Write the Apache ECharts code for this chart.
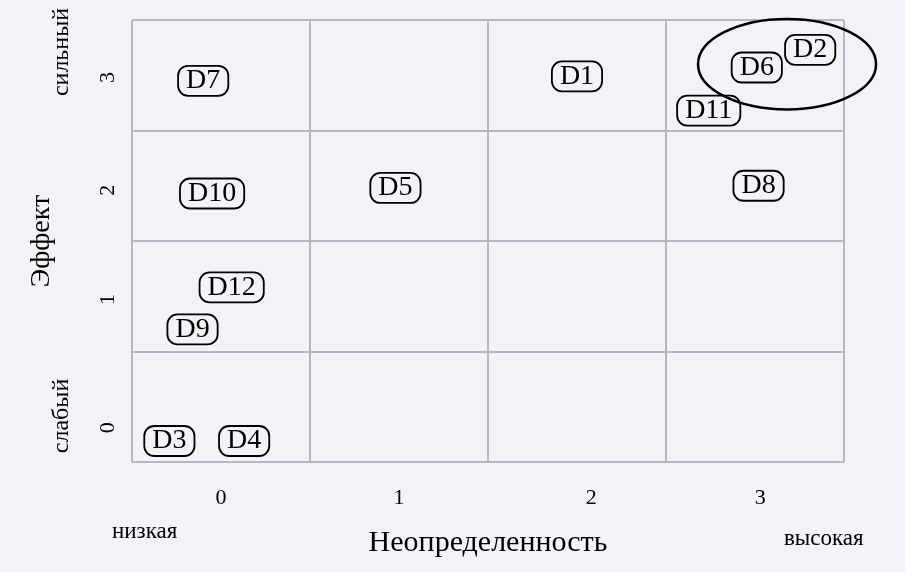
<!DOCTYPE html>
<html><head><meta charset="utf-8">
<script src="https://cdn.jsdelivr.net/npm/echarts@6/dist/echarts.min.js"></script>
<style>html,body{margin:0;padding:0;background:#f2f2f7;}#c{width:905px;height:572px;}</style>
</head><body><div id="c"></div>
<script>
// Items: name, uncertainty (x), effect (y)
const names = ['D1','D2','D3','D4','D5','D6','D7','D8','D9','D10','D11','D12'];
const uncertainty = [2.00, 3.31, -0.29, 0.13, 0.98, 3.01, -0.10, 3.02, -0.16, -0.05, 2.74, 0.06];
const effect =      [2.99, 3.23, -0.31, -0.31, 1.98, 3.07, 2.95, 2.00, 0.70, 1.93, 2.68, 1.08];
const xTickLabels = ['0','1','2','3'];
const xTickValues = [0, 1, 2.08, 3.03];
const yTickLabels = ['0','1','2','3'];
const yTickValues = [-0.19, 0.97, 1.96, 2.98];
const highlight = [[3.18, 3.10, 0.50, 0.41]]; // cx, cy, rx, ry
const FONT = 'Liberation Serif';
const ink = '#000';
const gridColor = '#b6b6ca';

const chart = echarts.init(document.getElementById('c'));
const pts = names.map((n,i)=>({name:n, value:[uncertainty[i], effect[i]]}));
chart.setOption({
  backgroundColor:'#f2f2f7',
  animation:false,
  grid:{left:132, right:61, top:20, bottom:110},
  xAxis:[{
    type:'value', min:-0.5, max:3.5,
    name:'Неопределенность', nameLocation:'middle', nameGap:66,
    nameTextStyle:{fontFamily:FONT, fontSize:30, color:ink},
    axisLine:{show:false}, axisTick:{show:false}, splitLine:{show:false},
    axisLabel:{customValues:xTickValues, margin:25, fontFamily:FONT, fontSize:22, color:ink,
      formatter:(v)=>{const i=xTickValues.findIndex(t=>Math.abs(t-v)<1e-6);return i>=0?xTickLabels[i]:'';}}
  },{
    type:'value', min:0, max:4, interval:1, position:'bottom',
    axisLine:{show:false}, axisTick:{show:false}, axisLabel:{show:false},
    splitLine:{show:true, lineStyle:{color:gridColor, width:2}}
  }],
  yAxis:[{
    type:'value', min:-0.5, max:3.5,
    name:'Эффект', nameLocation:'middle', nameGap:76,
    nameTextStyle:{fontFamily:FONT, fontSize:28, color:ink},
    axisLine:{show:false}, axisTick:{show:false}, splitLine:{show:false},
    axisLabel:{customValues:yTickValues, rotate:90, margin:13, fontFamily:FONT, fontSize:22, color:ink,
      formatter:(v)=>{const i=yTickValues.findIndex(t=>Math.abs(t-v)<1e-6);return i>=0?yTickLabels[i]:'';}}
  },{
    type:'value', min:0, max:4, interval:1, position:'left',
    axisLine:{show:false}, axisTick:{show:false}, axisLabel:{show:false},
    splitLine:{show:true, lineStyle:{color:gridColor, width:2}}
  }],
  series:[{
    type:'scatter', xAxisIndex:0, yAxisIndex:0, data:pts, symbolSize:0,
    itemStyle:{opacity:1, color:'transparent'},
    label:{show:true, position:'inside', formatter:'{b}', fontFamily:FONT, fontSize:28, color:ink,
      borderColor:ink, borderWidth:1.8, borderRadius:10, padding:[2,8,0,8], lineHeight:28},
    emphasis:{disabled:true}
  },{
    type:'custom', xAxisIndex:0, yAxisIndex:0, clip:false, data:highlight,
    renderItem:(params, api)=>{
      const c = api.coord([api.value(0), api.value(1)]);
      const s = api.size([api.value(2), api.value(3)]);
      return {type:'ellipse', shape:{cx:c[0], cy:c[1], rx:s[0], ry:s[1]},
        style:{fill:null, stroke:ink, lineWidth:2.5}};
    }
  }],
  graphic:[
    {type:'text', left:112, top:520, style:{text:'низкая', font:'23px "Liberation Serif"', fill:ink}},
    {type:'text', left:784, top:527, style:{text:'высокая', font:'23px "Liberation Serif"', fill:ink}},
    {type:'text', x:62, y:52, rotation:Math.PI/2, style:{text:'сильный', font:'24px "Liberation Serif"', fill:ink, align:'center', verticalAlign:'middle'}},
    {type:'text', x:62, y:416, rotation:Math.PI/2, style:{text:'слабый', font:'24px "Liberation Serif"', fill:ink, align:'center', verticalAlign:'middle'}}
  ]
});
</script></body></html>
